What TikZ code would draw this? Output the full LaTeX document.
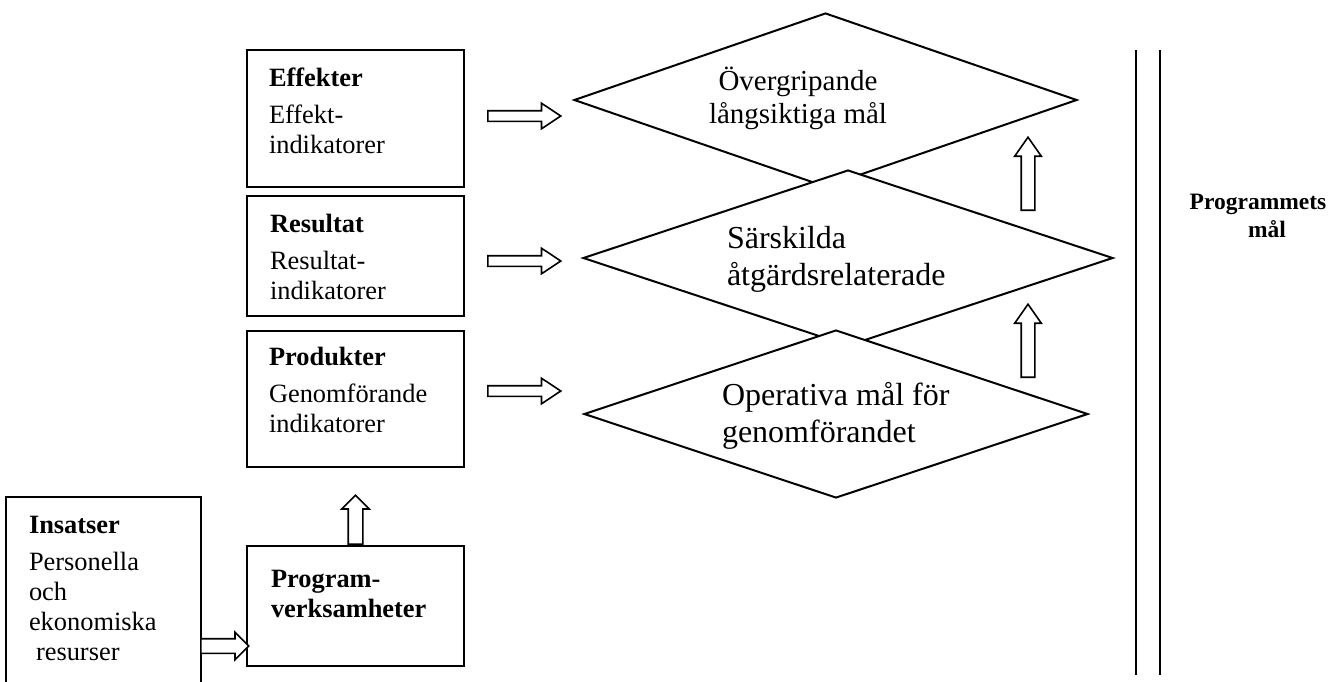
\documentclass[tikz,border=0pt]{standalone}
\usepackage{fontspec}
\setmainfont{Liberation Serif}
\usetikzlibrary{shapes.geometric,shapes.arrows}
\newcommand\boxfont{\fontsize{26.4}{30}\selectfont}
\newcommand\goalfont{\fontsize{32}{37}\selectfont}
\newcommand\overfont{\fontsize{29}{33}\selectfont}
\newcommand\sidefont{\fontsize{23.5}{28}\selectfont\bfseries}
\newcommand\rows[1]{\begin{tabular}[t]{@{}l@{}}#1\end{tabular}}

\begin{document}
\begin{tikzpicture}[x=1pt,y=-1pt,line width=2pt]
    \tikzstyle{box}=[draw, rectangle, minimum width=217pt, inner sep=0pt]
    \tikzstyle{txt}=[anchor=base west, inner sep=0pt, font=\boxfont]
    \tikzstyle{goal}=[draw, diamond, fill=white, inner sep=0pt]
    \tikzstyle{blk}=[draw, single arrow, fill=white, line width=1.6pt, single arrow head indent=0pt, anchor=tail]
    \tikzstyle{fwd}=[blk, inner sep=4.5pt, minimum height=73pt, single arrow head extend=7.5pt, single arrow tip angle=67]
    \tikzstyle{up}=[blk, shape border rotate=90, inner sep=6pt, minimum height=73pt, single arrow head extend=6.5pt, single arrow tip angle=70]
    \tikzstyle{stub}=[blk, inner sep=6.5pt, minimum height=48pt, single arrow head extend=6.5pt, single arrow tip angle=90]

    \useasboundingbox (0,0) rectangle (1330,681);

    % indicator boxes
    \node[box, minimum height=137pt] (eff)  at (355.5,118.5) {};
    \node[box, minimum height=120pt] (res)  at (355.5,256)   {};
    \node[box, minimum height=136pt] (prod) at (355.5,399)   {};
    \node[box, minimum height=120pt] (prog) at (355.5,606)   {};
    \node[minimum width=193pt, minimum height=183pt, inner sep=0pt] (ins) at (103.5,589.5) {};
    \draw (ins.south west) |- (ins.north east) -- (ins.south east);

    \node[txt] (efftxt)  at (268,86)  {\rows{\textbf{Effekter}\\[7pt]Effekt-\\indikatorer}};
    \node[txt] (restxt)  at (269,232) {\rows{\textbf{Resultat}\\[7pt]Resultat-\\indikatorer}};
    \node[txt] (prodtxt) at (268,365) {\rows{\textbf{Produkter}\\[7pt]Genomförande\\indikatorer}};
    \node[txt, font=\boxfont\bfseries] (progtxt) at (270,587) {\rows{Program-\\verksamheter}};
    \node[txt] (instxt)  at (28,533)  {\rows{\textbf{Insatser}\\[7pt]Personella\\och\\ekonomiska\\\hspace*{7pt}resurser}};

    % goal diamonds, lower ones on top
    \node[goal, minimum width=503pt, minimum height=174pt] (over) at (825.5,100) {};
    \node[goal, minimum width=530pt, minimum height=176pt] (spec) at (848,258)   {};
    \node[goal, minimum width=504pt, minimum height=168pt] (oper) at (836,414)   {};

    \node[anchor=base, inner sep=0pt, font=\overfont] (overtxt) at (798,90)
        {\begin{tabular}[t]{@{}c@{}}Övergripande\\långsiktiga mål\end{tabular}};
    \node[txt, font=\goalfont] (spectxt) at (726,248) {\rows{Särskilda\\åtgärdsrelaterade}};
    \node[txt, font=\goalfont] (opertxt) at (721,405) {\rows{Operativa mål för\\genomförandet}};

    % block arrows
    \node[fwd] (a1) at (487,116) {};
    \node[fwd] (a2) at (487,261) {};
    \node[fwd] (a3) at (487,391) {};
    \node[up]  (u1) at (1028,211) {};
    \node[up]  (u2) at (1028,378) {};
    \node[stub, shape border rotate=90, minimum height=49pt] (u0) at (prog.north) {};
    \node[stub] (r0) at (200,646) {};

    % programme goal bar
    \coordinate (l1) at (1136,50);
    \coordinate (l1e) at (1136,675);
    \coordinate (l2) at (1160,50);
    \coordinate (l2e) at (1160,675);
    \draw (l1) -- (l1e);
    \draw (l2) -- (l2e);
    \node[anchor=base, inner sep=0pt, font=\sidefont] (side) at (1258,209)
        {\begin{tabular}[t]{@{}c@{}}Programmets\\\hspace*{18pt}mål\end{tabular}};
\end{tikzpicture}
\end{document}
